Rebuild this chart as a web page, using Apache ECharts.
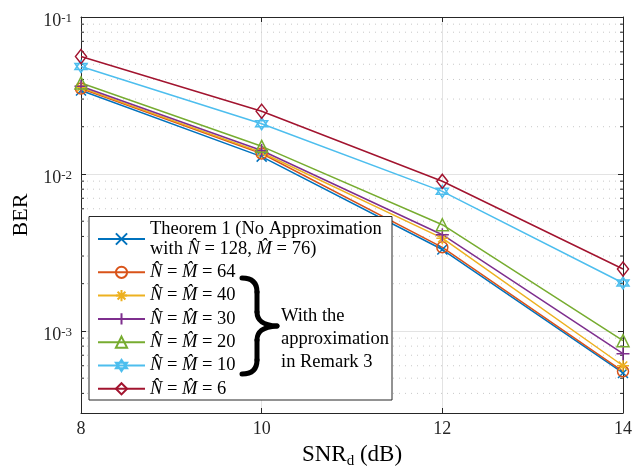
<!DOCTYPE html>
<html lang="en">
<head>
    <meta charset="UTF-8">
    <title>BER vs SNR</title>
    <script src="https://cdn.jsdelivr.net/npm/echarts@6/dist/echarts.min.js"></script>
    <style>
        body { margin: 0; background: #fff; }
        #main { width: 641px; height: 468px; }
    </style>
</head>
<body>
    <div id="main"></div>
    <script>
        // SNR_d (dB)
        var snr = [8, 10, 12, 14];

        // BER curves
        var theorem1 = [0.0340, 0.0129, 0.00330, 0.000540];
        var nm64 = [0.0350, 0.0135, 0.00341, 0.000553];
        var nm40 = [0.0355, 0.0137, 0.00390, 0.000600];
        var nm30 = [0.0362, 0.0141, 0.00410, 0.000716];
        var nm20 = [0.0380, 0.0150, 0.00475, 0.000867];
        var nm10 = [0.0484, 0.0209, 0.00775, 0.00202];
        var nm6 = [0.0560, 0.0251, 0.00898, 0.00248];

        var xTicks = [8, 10, 12, 14];
        var yMinorTicks = [4e-4, 5e-4, 6e-4, 7e-4, 8e-4, 9e-4,
            2e-3, 3e-3, 4e-3, 5e-3, 6e-3, 7e-3, 8e-3, 9e-3,
            2e-2, 3e-2, 4e-2, 5e-2, 6e-2, 7e-2, 8e-2, 9e-2];

        var names = ['t1', 'n64', 'n40', 'n30', 'n20', 'n10', 'n6'];
        var labels = [
            'Theorem 1 (No Approximation\nwith {i|N\u0302} = 128, {i|M\u0302} = 76)',
            '{i|N\u0302} = {i|M\u0302} = 64',
            '{i|N\u0302} = {i|M\u0302} = 40',
            '{i|N\u0302} = {i|M\u0302} = 30',
            '{i|N\u0302} = {i|M\u0302} = 20',
            '{i|N\u0302} = {i|M\u0302} = 10',
            '{i|N\u0302} = {i|M\u0302} = 6'
        ];
        var values = [theorem1, nm64, nm40, nm30, nm20, nm10, nm6];
        var colors = ['#0072BD', '#D95319', '#EDB120', '#7E2F8E', '#77AC30', '#4DBEEE', '#A2142F'];
        var symbols = [
            'path://M0,0L10,10M10,0L0,10',
            'circle',
            'path://M5,0L5,10M0,5L10,5M1.5,1.5L8.5,8.5M8.5,1.5L1.5,8.5',
            'path://M5,0L5,10M0,5L10,5',
            'triangle',
            'path://M5,0L9.33,7.5L0.67,7.5ZM5,10L0.67,2.5L9.33,2.5Z',
            'diamond'
        ];
        var symbolSizes = [10, 11, 12, 13, 12, 12, [11, 14]];

        var serif = 'Liberation Serif';
        var chart = echarts.init(document.getElementById('main'));

        var series = [{
            type: 'custom',
            name: 'minor',
            silent: true,
            data: yMinorTicks.map(function (v) { return [xTicks[0], v]; }),
            renderItem: function (params, api) {
                var v = api.value(1);
                var p0 = api.coord([xTicks[0], v]);
                var p1 = api.coord([xTicks[xTicks.length - 1], v]);
                return {
                    type: 'group',
                    children: [
                        { type: 'line', shape: { x1: p0[0], y1: p0[1], x2: p1[0], y2: p1[1] },
                          style: { stroke: '#c8c8c8', lineWidth: 1, lineDash: [1, 5] } },
                        { type: 'line', shape: { x1: p0[0], y1: p0[1], x2: p0[0] + 3, y2: p0[1] },
                          style: { stroke: '#262626', lineWidth: 1 } },
                        { type: 'line', shape: { x1: p1[0] - 3, y1: p1[1], x2: p1[0], y2: p1[1] },
                          style: { stroke: '#262626', lineWidth: 1 } }
                    ]
                };
            }
        }];

        values.forEach(function (vals, i) {
            series.push({
                type: 'line',
                name: names[i],
                data: snr.map(function (x, j) { return [x, vals[j]]; }),
                color: colors[i],
                symbol: symbols[i],
                symbolSize: symbolSizes[i],
                showAllSymbol: true,
                lineStyle: { color: colors[i], width: 1.5 },
                itemStyle: { color: 'none', borderColor: colors[i], borderWidth: 1.5 },
                emphasis: { disabled: true },
                z: 3
            });
        });

        // curly brace next to the legend
        var braceStyle = { fill: 'none', stroke: '#000', lineWidth: 5, lineCap: 'round' };
        function curve(x1, y1, c1x, c1y, c2x, c2y, x2, y2) {
            return { type: 'bezierCurve', z: 6, silent: true,
                shape: { x1: x1, y1: y1, cpx1: c1x, cpy1: c1y, cpx2: c2x, cpy2: c2y, x2: x2, y2: y2 },
                style: braceStyle };
        }
        function seg(x1, y1, x2, y2) {
            return { type: 'line', z: 6, silent: true,
                shape: { x1: x1, y1: y1, x2: x2, y2: y2 }, style: braceStyle };
        }

        var option = {
            animation: false,
            backgroundColor: '#fff',
            grid: { left: 81, right: 18, top: 17, bottom: 55, containLabel: false, outerBoundsMode: 'none' },
            xAxis: [{
                type: 'value',
                min: 8, max: 14, interval: 2,
                name: '{n|SNR}{sub|d}{n| (dB)}',
                nameLocation: 'middle',
                nameGap: 30,
                nameTextStyle: {
                    rich: {
                        n: { fontFamily: serif, fontSize: 23, color: '#000' },
                        sub: { fontFamily: serif, fontSize: 15, color: '#000', padding: [0, 0, -13, 0] }
                    }
                },
                axisLine: { lineStyle: { color: '#262626', width: 1 } },
                axisTick: { inside: true, length: 5, lineStyle: { color: '#262626' } },
                axisLabel: { fontFamily: serif, fontSize: 18, color: '#262626', margin: 7 },
                splitLine: { show: true, lineStyle: { color: '#e3e3e3', width: 1 } }
            }, {
                type: 'value',
                position: 'top',
                min: 8, max: 14, interval: 2,
                axisLine: { lineStyle: { color: '#262626', width: 1 } },
                axisTick: { inside: true, length: 5, lineStyle: { color: '#262626' } },
                axisLabel: { show: false },
                splitLine: { show: false }
            }],
            yAxis: [{
                type: 'log',
                logBase: 10,
                min: 3e-4, max: 0.1,
                name: 'BER',
                nameLocation: 'middle',
                nameGap: 45,
                nameTextStyle: { fontFamily: serif, fontSize: 22, color: '#000' },
                axisLine: { lineStyle: { color: '#262626', width: 1 } },
                axisTick: { inside: true, length: 5, lineStyle: { color: '#262626' } },
                axisLabel: {
                    margin: 9,
                    padding: [9, 0, 0, 0],
                    formatter: function (v) {
                        var l = Math.log10(v);
                        var e = Math.round(l);
                        if (Math.abs(l - e) > 1e-6) return '';
                        return '{b|10}{s|' + e + '}';
                    },
                    rich: {
                        b: { fontFamily: serif, fontSize: 18, color: '#262626' },
                        s: { fontFamily: serif, fontSize: 13, color: '#262626', padding: [0, 0, 6, 0] }
                    }
                },
                splitLine: { show: true, lineStyle: { color: '#e3e3e3', width: 1 } }
            }, {
                type: 'log',
                logBase: 10,
                position: 'right',
                min: 3e-4, max: 0.1,
                axisLine: { lineStyle: { color: '#262626', width: 1 } },
                axisTick: { inside: true, length: 5, lineStyle: { color: '#262626' } },
                axisLabel: { show: false },
                splitLine: { show: false }
            }],
            legend: {
                data: names,
                orient: 'vertical',
                left: 89,
                top: 217,
                padding: [2, 0, 0, 8],
                itemGap: 3.3,
                itemWidth: 47,
                itemHeight: 14,
                selectedMode: false,
                z: 5,
                formatter: function (name) { return labels[names.indexOf(name)]; },
                textStyle: {
                    fontFamily: serif, fontSize: 18.5, color: '#000', lineHeight: 20,
                    rich: { i: { fontFamily: serif, fontSize: 18.5, fontStyle: 'italic', color: '#000', lineHeight: 20 } }
                }
            },
            graphic: [{
                type: 'rect',
                z: 4,
                silent: true,
                shape: { x: 89, y: 216.5, width: 303, height: 183.5 },
                style: { fill: '#fff', stroke: '#262626', lineWidth: 1 }
            },
                curve(242, 278, 252, 278, 257, 283, 257, 292),
                seg(257, 292, 257, 312),
                curve(257, 312, 257, 320, 262, 325, 277, 326),
                curve(277, 326, 262, 327, 257, 332, 257, 340),
                seg(257, 340, 257, 360),
                curve(257, 360, 257, 369, 252, 374, 242, 374),
            {
                type: 'text',
                z: 6,
                left: 281,
                top: 305,
                style: {
                    text: 'With the\napproximation\nin Remark 3',
                    fontFamily: serif, fontSize: 18.5, lineHeight: 23, fill: '#000'
                }
            }],
            series: series
        };

        chart.setOption(option);
    </script>
</body>
</html>
